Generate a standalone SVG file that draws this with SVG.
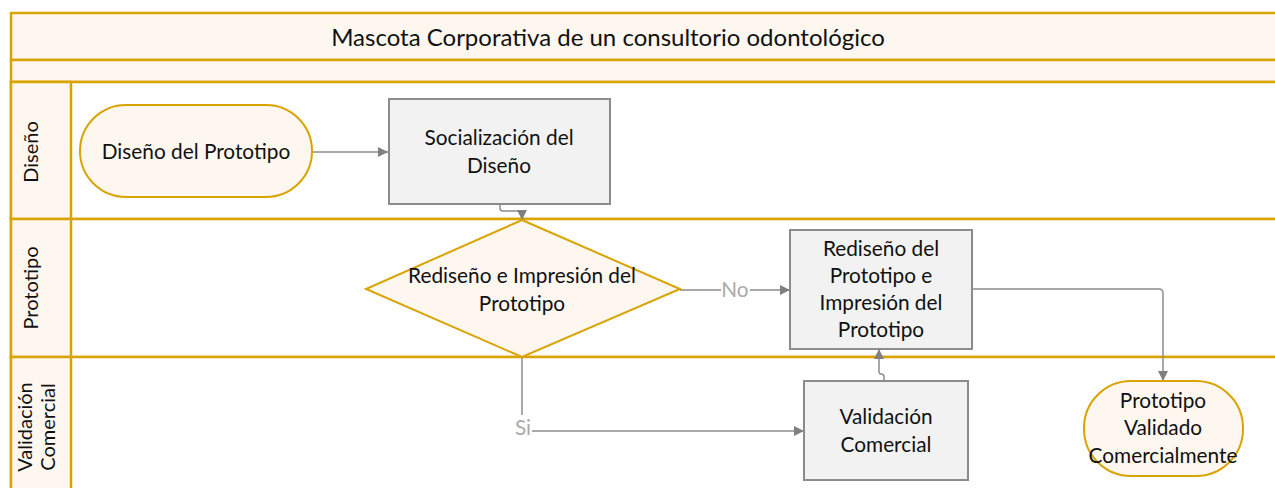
<svg xmlns="http://www.w3.org/2000/svg" width="1275" height="488" viewBox="0 0 1275 488">
<defs>
<style>
.lane{fill:#FDF7F0;stroke:#D9A300;stroke-width:2.5}
.laneBody{fill:#FFFFFF;stroke:#D9A300;stroke-width:2.5}
.term{fill:#FDF7F0;stroke:#D9A300;stroke-width:2}
.proc{fill:#F2F2F2;stroke:#8C8C8C;stroke-width:2}
.conn{fill:none;stroke:#8C8C8C;stroke-width:1.5}
text{font-family:Lato,"Open Sans","Liberation Sans",sans-serif;fill:#111111}
.t{font-size:20.8px;text-anchor:middle}
.ln{font-size:20px;text-anchor:middle}
.lbl{font-size:20.8px;text-anchor:middle;fill:#AAAAAA}
.title{font-size:24px;text-anchor:middle}
</style>
<marker id="arr" viewBox="0 0 10 10" refX="10" refY="5" markerWidth="10" markerHeight="10" markerUnits="userSpaceOnUse" orient="auto">
<path d="M0,0 L10,5 L0,10 z" fill="#808080"/>
</marker>
</defs>
<rect width="1275" height="488" fill="#FFFFFF"/>
<g id="pool">
<rect class="lane" x="11" y="13" width="1280" height="47"/>
<rect class="lane" x="11" y="60" width="1280" height="22"/>
<rect class="laneBody" x="11" y="82" width="1280" height="137"/>
<rect class="laneBody" x="11" y="219" width="1280" height="138"/>
<rect class="laneBody" x="11" y="357" width="1280" height="140"/>
<rect class="lane" x="11" y="82" width="60" height="137"/>
<rect class="lane" x="11" y="219" width="60" height="138"/>
<rect class="lane" x="11" y="357" width="60" height="140"/>
<text class="title" x="608" y="46">Mascota Corporativa de un consultorio odontológico</text>
<text class="ln" transform="translate(38,152) rotate(-90)">Diseño</text>
<text class="ln" transform="translate(38,288) rotate(-90)">Prototipo</text>
<text class="ln" transform="translate(32,427) rotate(-90)">Validación</text>
<text class="ln" transform="translate(55,427) rotate(-90)">Comercial</text>
</g>
<g id="connectors">
<path class="conn" d="M312,152 L388,152" marker-end="url(#arr)"/>
<path class="conn" d="M500,204 L500,208 Q500,211 503,211 L519,211 Q522,211 522,214 L522,220" marker-end="url(#arr)"/>
<path class="conn" d="M680,290 L721,290 M750,290 L790,290" marker-end="url(#arr)"/>
<text class="lbl" x="735" y="297">No</text>
<path class="conn" d="M522,357 L522,415"/>
<path class="conn" d="M532,431 L804,431" marker-end="url(#arr)"/>
<text class="lbl" x="523" y="435">Si</text>
<path class="conn" d="M884,381 L884,377 Q884,374 881,374 Q879,374 879,371 L879,349" marker-end="url(#arr)"/>
<path class="conn" d="M972,289 L1159,289 Q1163,289 1163,293 L1163,381" marker-end="url(#arr)"/>
</g>
<g id="n1">
<rect class="term" x="80" y="105" width="232" height="92" rx="46" ry="46"/>
<text class="t" x="196" y="159">Diseño del Prototipo</text>
</g>
<g id="n2">
<rect class="proc" x="389" y="99" width="221" height="105"/>
<text class="t" x="499" y="145">Socialización del</text>
<text class="t" x="499" y="173">Diseño</text>
</g>
<g id="n3">
<polygon class="term" points="522,220 680,289 522,357 366,289"/>
<text class="t" x="522" y="283">Rediseño e Impresión del</text>
<text class="t" x="522" y="311">Prototipo</text>
</g>
<g id="n4">
<rect class="proc" x="790" y="230" width="182" height="119"/>
<text class="t" x="881" y="256">Rediseño del</text>
<text class="t" x="881" y="283">Prototipo e</text>
<text class="t" x="881" y="310">Impresión del</text>
<text class="t" x="881" y="337">Prototipo</text>
</g>
<g id="n5">
<rect class="proc" x="804" y="381" width="164" height="99"/>
<text class="t" x="886" y="424">Validación</text>
<text class="t" x="886" y="452">Comercial</text>
</g>
<g id="n6">
<rect class="term" x="1084" y="381" width="159" height="95" rx="47" ry="47"/>
<text class="t" x="1163" y="408">Prototipo</text>
<text class="t" x="1163" y="435">Validado</text>
<text class="t" x="1163" y="463">Comercialmente</text>
</g>
</svg>
